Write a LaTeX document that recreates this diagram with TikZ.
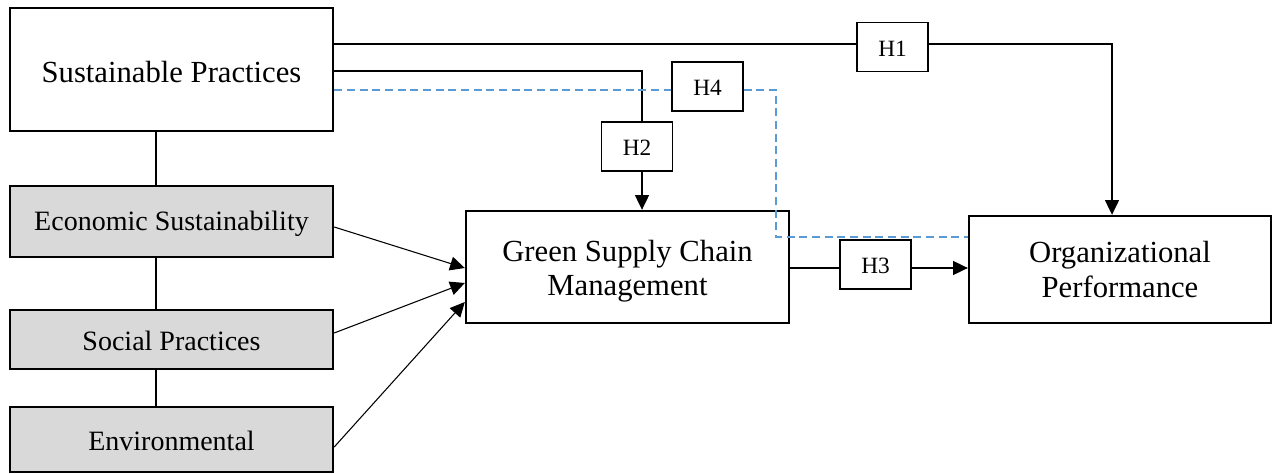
\documentclass[tikz,border=0pt]{standalone}
\usepackage{fontspec}
\setmainfont{Liberation Serif}
\usetikzlibrary{arrows.meta}
\definecolor{subfill}{HTML}{D9D9D9}
\definecolor{dashblue}{HTML}{5B9BD5}
% text set on its baseline, raised by #1, taking no vertical room
\newcommand\basetext[2]{\raisebox{#1}[0pt][0pt]{#2}}
\newcommand\twolines[2]{\begin{tabular}[t]{@{}c@{}}#1\\#2\end{tabular}}
\begin{document}
\begin{tikzpicture}[x=0.75pt,y=-0.75pt,
  mainbox/.style={draw, line width=1.8pt, inner sep=0pt,
    font=\fontsize{23}{26}\selectfont},
  subbox/.style={draw, line width=1.8pt, fill=subfill, inner sep=0pt,
    minimum width=242.25pt, font=\fontsize{21}{24}\selectfont},
  hbox/.style={draw, line width=1.1pt, fill=white, inner sep=0pt,
    minimum width=53.25pt, minimum height=37pt, font=\fontsize{17.5}{20}\selectfont},
  link/.style={line width=1.4pt},
  conn/.style={line width=0.8pt},
  arr/.style={conn, -{Triangle[length=11pt, width=10.5pt]}},
  dconn/.style={line width=1.2pt, draw=dashblue, dash pattern=on 6pt off 3.5pt}]

\useasboundingbox (0,0) rectangle (1277,474);

% constructs
\node[mainbox, minimum width=242.25pt, minimum height=92.25pt] (SP) at (171.5,69.5)
  {\basetext{-9.4pt}{Sustainable Practices}};
\node[subbox, minimum height=53.25pt] (EC) at (171.5,221.5)
  {\basetext{-6.9pt}{Economic Sustainability}};
\node[subbox, minimum height=44.25pt] (SO) at (171.5,339.5)
  {\basetext{-7.9pt}{Social Practices}};
\node[subbox, minimum height=48.75pt] (EN) at (171.5,439.5)
  {\basetext{-8.4pt}{Environmental}};
\node[mainbox, minimum width=242.25pt, minimum height=84pt] (GS) at (627.5,267)
  {\basetext{4.5pt}{\twolines{Green Supply Chain}{Management}}};
\node[mainbox, minimum width=226.5pt, minimum height=80.25pt] (OP) at (1120,269.5)
  {\basetext{4.9pt}{\twolines{Organizational}{Performance}}};

% hypothesis labels
\node[hbox] (H1) at (892.5,47) {\basetext{-6.8pt}{H1}};
\node[hbox] (H2) at (637,146.5) {\basetext{-7.1pt}{H2}};
\node[hbox] (H3) at (875.5,264.5) {\basetext{-7.1pt}{H3}};
\node[hbox] (H4) at (707.5,86.5) {\basetext{-7.1pt}{H4}};

% routing points
\coordinate (vx) at (156,0);
\coordinate (h1y) at (0,44);
\coordinate (h1x) at (1112,0);
\coordinate (h2y) at (0,71);
\coordinate (h2x) at (642,0);
\coordinate (h4y) at (0,90);
\coordinate (d4) at (776,237);
\coordinate (h3y) at (0,268);
\coordinate (s1) at (0,227);
\coordinate (s2) at (0,333);
\coordinate (s3) at (0,447);
\coordinate (g1) at (0,268);
\coordinate (g2) at (0,283);
\coordinate (g3) at (0,302);

% dimension links
\draw[link] (SP.south -| vx) -- (EC.north -| vx);
\draw[link] (EC.south -| vx) -- (SO.north -| vx);
\draw[link] (SO.south -| vx) -- (EN.north -| vx);

% dimensions to GSCM
\draw[arr] (EC.east |- s1) -- (GS.west |- g1);
\draw[arr] (SO.east |- s2) -- (GS.west |- g2);
\draw[arr] (EN.east |- s3) -- (GS.west |- g3);

% H1
\draw[conn] (SP.east |- h1y) -- (H1.west |- h1y);
\draw[arr] (H1.east |- h1y) -| (OP.north -| h1x);

% H2
\draw[conn] (SP.east |- h2y) -| (H2.north -| h2x);
\draw[arr] (H2.south -| h2x) -- (GS.north -| h2x);

% H4 (mediated path)
\draw[dconn] (SP.east |- h4y) -- (H4.west |- h4y);
\draw[dconn] (H4.east |- h4y) -| (d4) -- (OP.west |- d4);

% H3
\draw[conn] (GS.east |- h3y) -- (H3.west |- h3y);
\draw[arr] (H3.east |- h3y) -- (OP.west |- h3y);

\end{tikzpicture}
\end{document}
